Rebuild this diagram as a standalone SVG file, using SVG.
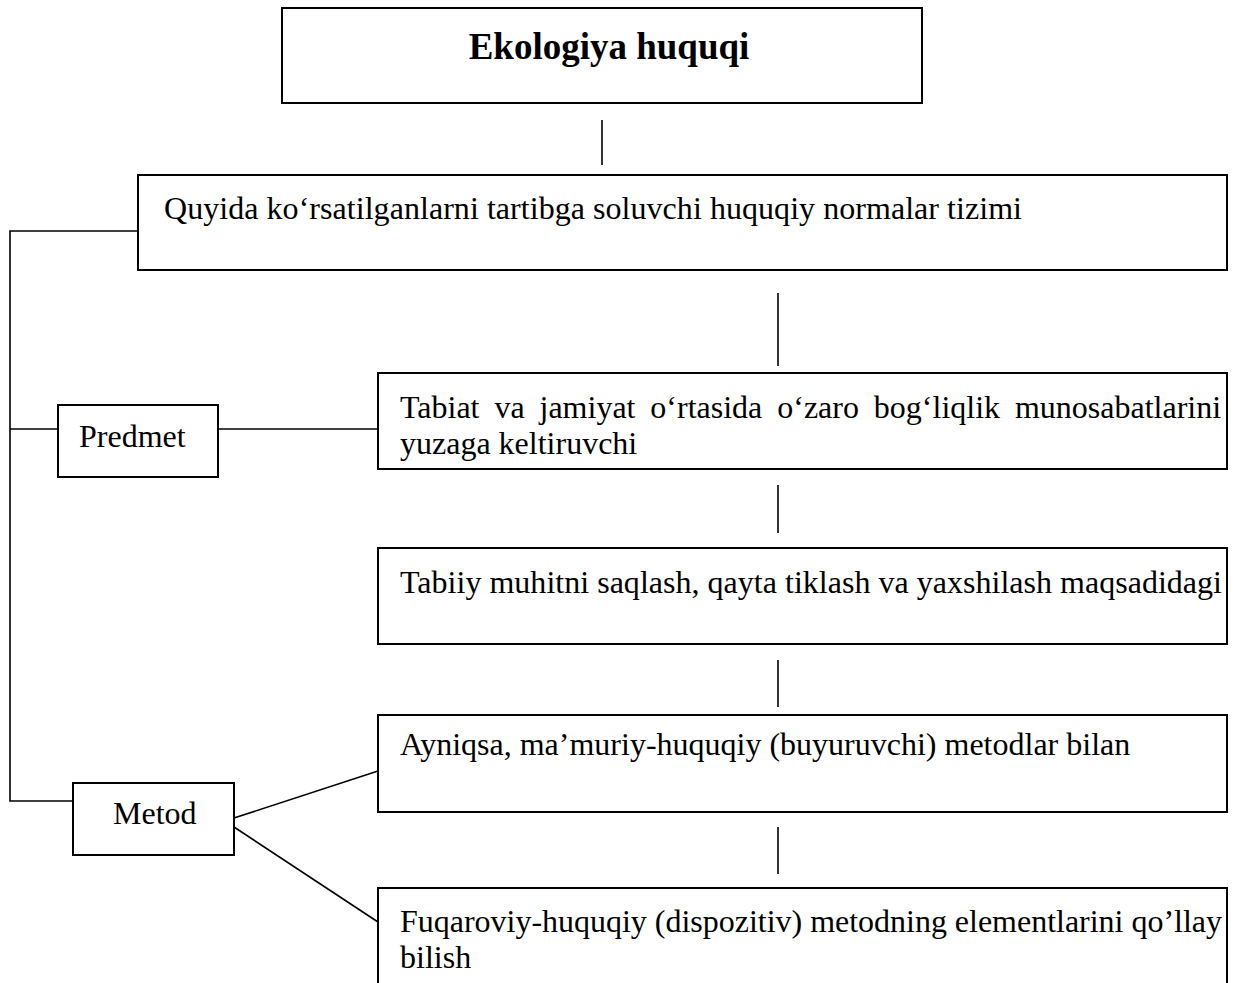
<svg xmlns="http://www.w3.org/2000/svg" width="1242" height="983" viewBox="0 0 1242 983">
  <style>
    .box { fill: #ffffff; stroke: #000000; stroke-width: 2; }
    .wire { fill: none; stroke: #000000; stroke-width: 1.6; }
    .txt { font-family: "Liberation Serif", "Times New Roman", serif; font-size: 32px; fill: #000000; }
    .title { font-family: "Liberation Serif", "Times New Roman", serif; font-size: 37px; font-weight: bold; fill: #000000; }
  </style>
  <rect width="1242" height="983" fill="#ffffff"/>

  <!-- connectors -->
  <g id="connectors">
    <line class="wire" x1="602" y1="120" x2="602" y2="165"/>
    <polyline class="wire" points="138,231 10,231 10,801 73,801"/>
    <line class="wire" x1="10" y1="429" x2="58" y2="429"/>
    <line class="wire" x1="218" y1="429" x2="378" y2="429"/>
    <line class="wire" x1="778" y1="293" x2="778" y2="366"/>
    <line class="wire" x1="778" y1="485" x2="778" y2="533"/>
    <line class="wire" x1="778" y1="660" x2="778" y2="707"/>
    <line class="wire" x1="778" y1="827" x2="778" y2="874"/>
    <line class="wire" x1="234" y1="818" x2="378" y2="771"/>
    <line class="wire" x1="234" y1="827" x2="378" y2="922"/>
  </g>

  <!-- root node -->
  <g id="ekologiya-huquqi">
    <rect class="box" x="282" y="8" width="640" height="95"/>
    <text class="title" x="609" y="59" text-anchor="middle">Ekologiya huquqi</text>
  </g>

  <g id="normalar-tizimi">
    <rect class="box" x="138" y="175" width="1089" height="95"/>
    <text class="txt" x="164" y="219" textLength="858">Quyida ko‘rsatilganlarni tartibga soluvchi huquqiy normalar tizimi</text>
  </g>

  <g id="predmet">
    <rect class="box" x="58" y="405" width="160" height="72"/>
    <text class="txt" x="79" y="447">Predmet</text>
  </g>

  <g id="tabiat-jamiyat">
    <rect class="box" x="378" y="373" width="849" height="96"/>
    <text class="txt" x="400" y="418" word-spacing="6.9">Tabiat va jamiyat o‘rtasida o‘zaro bog‘liqlik munosabatlarini</text>
    <text class="txt" x="400" y="454">yuzaga keltiruvchi</text>
  </g>

  <g id="tabiiy-muhit">
    <rect class="box" x="378" y="548" width="849" height="96"/>
    <text class="txt" x="400" y="593" textLength="822">Tabiiy muhitni saqlash, qayta tiklash va yaxshilash maqsadidagi</text>
  </g>

  <g id="metod">
    <rect class="box" x="73" y="783" width="161" height="72"/>
    <text class="txt" x="113" y="824">Metod</text>
  </g>

  <g id="mamuriy-huquqiy">
    <rect class="box" x="378" y="715" width="849" height="97"/>
    <text class="txt" x="400" y="755">Ayniqsa, ma’muriy-huquqiy (buyuruvchi) metodlar bilan</text>
  </g>

  <g id="fuqaroviy-huquqiy">
    <path class="box" d="M378,990 L378,888 L1227,888 L1227,990"/>
    <text class="txt" x="400" y="932" textLength="822">Fuqaroviy-huquqiy (dispozitiv) metodning elementlarini qo’llay</text>
    <text class="txt" x="400" y="968">bilish</text>
  </g>
</svg>
